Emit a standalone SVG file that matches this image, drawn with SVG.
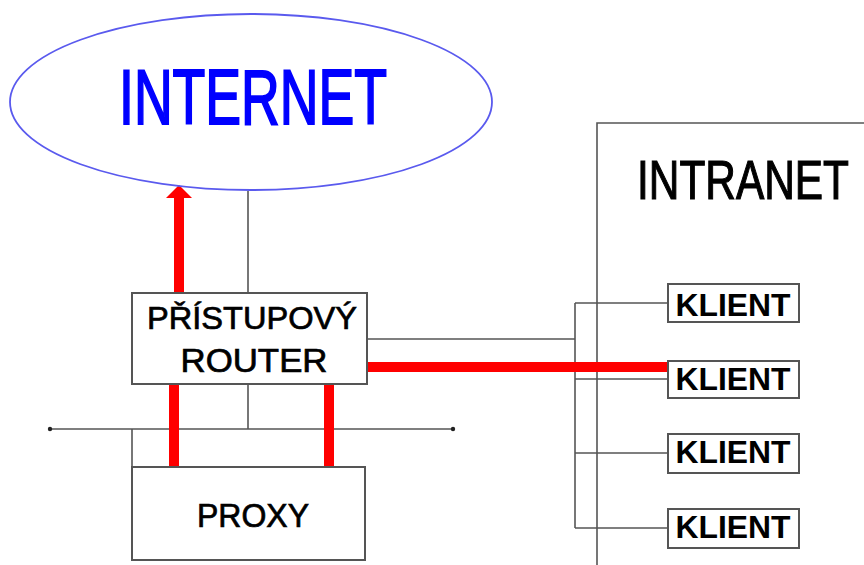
<svg xmlns="http://www.w3.org/2000/svg" width="864" height="565" viewBox="0 0 864 565">
<style>
.ln{stroke:#555;stroke-width:1.6;fill:none}
.red{stroke:#ff0000;stroke-width:10;fill:none}
.box{fill:#fff;stroke:#555;stroke-width:2}
.t{font-family:"Liberation Sans",Arial,sans-serif;fill:#000;stroke:#000;stroke-width:0.7;text-anchor:middle}
.k{font-family:"Liberation Sans",Arial,sans-serif;font-weight:bold;font-size:32px;fill:#000;text-anchor:middle}
</style>
<rect width="864" height="565" fill="#fff"/>
<g id="intranet">
<path class="ln" d="M597,565 V123 H864" stroke-width="2"/>
<text class="t" transform="translate(743,199) scale(0.757,1)" x="0" y="0" font-size="56" style="stroke-width:1.2">INTRANET</text>
</g>
<g id="connectors">
<line class="ln" x1="248" y1="191" x2="248" y2="293"/>
<line class="ln" x1="248" y1="384" x2="248" y2="429"/>
<line class="ln" x1="50" y1="429" x2="453" y2="429"/>
<circle cx="50" cy="429" r="2.2" fill="#222"/>
<circle cx="453" cy="429" r="2.2" fill="#222"/>
<line class="ln" x1="132" y1="429" x2="132" y2="467"/>
<line class="ln" x1="367" y1="339" x2="575" y2="339"/>
<line class="ln" x1="575" y1="303" x2="575" y2="528"/>
<line class="ln" x1="575" y1="303" x2="668" y2="303"/>
<line class="ln" x1="575" y1="379" x2="668" y2="379"/>
<line class="ln" x1="575" y1="453" x2="668" y2="453"/>
<line class="ln" x1="575" y1="528" x2="668" y2="528"/>
<line class="red" x1="367" y1="367" x2="668" y2="367" stroke-width="9"/>
<line class="red" x1="174" y1="384" x2="174" y2="467"/>
<line class="red" x1="329" y1="384" x2="329" y2="467"/>
<line class="red" x1="179" y1="293" x2="179" y2="197"/>
<polygon points="166,198 192,198 179,185" fill="#ff0000"/>
</g>
<g id="internet">
<ellipse cx="251" cy="102" rx="241" ry="88" fill="none" stroke="#5a5aee" stroke-width="1.8"/>
<text class="t" x="253" y="124" font-size="78" style="fill:#0000ff;stroke:#0000ff;stroke-width:2" textLength="268" lengthAdjust="spacingAndGlyphs">INTERNET</text>
</g>
<g id="router">
<rect class="box" x="132" y="293" width="235" height="91"/>
<text class="t" x="252" y="329" font-size="32" textLength="210" lengthAdjust="spacingAndGlyphs">PŘÍSTUPOVÝ</text>
<text class="t" x="254" y="372" font-size="33" textLength="147" lengthAdjust="spacingAndGlyphs">ROUTER</text>
</g>
<g id="proxy">
<rect class="box" x="132" y="467" width="233" height="93"/>
<text class="t" x="253" y="527" font-size="33" textLength="112" lengthAdjust="spacingAndGlyphs">PROXY</text>
</g>
<g id="klient1">
<rect class="box" x="668" y="284" width="131" height="38"/>
<text class="k" x="733" y="316" textLength="115" lengthAdjust="spacingAndGlyphs">KLIENT</text>
</g>
<g id="klient2">
<rect class="box" x="668" y="361" width="131" height="37"/>
<text class="k" x="733" y="390" textLength="115" lengthAdjust="spacingAndGlyphs">KLIENT</text>
</g>
<g id="klient3">
<rect class="box" x="668" y="434" width="131" height="39"/>
<text class="k" x="733" y="463" textLength="115" lengthAdjust="spacingAndGlyphs">KLIENT</text>
</g>
<g id="klient4">
<rect class="box" x="668" y="509" width="131" height="39"/>
<text class="k" x="733" y="538" textLength="115" lengthAdjust="spacingAndGlyphs">KLIENT</text>
</g>
</svg>
